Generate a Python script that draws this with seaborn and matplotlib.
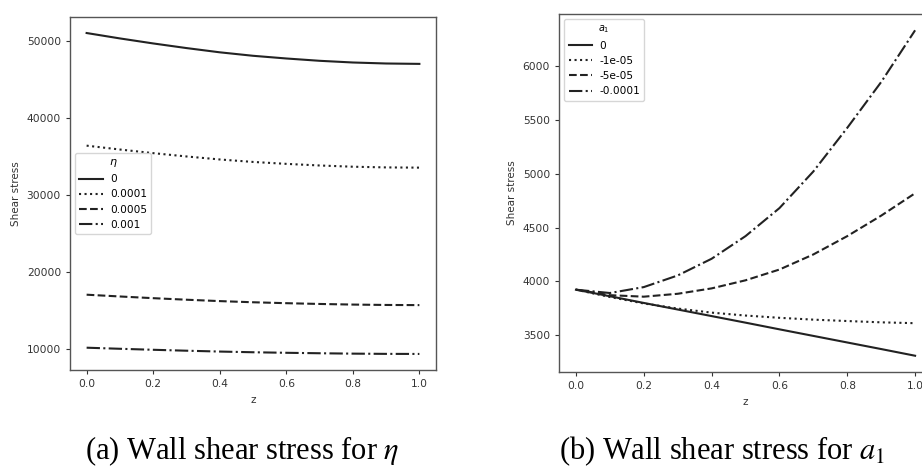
import matplotlib
matplotlib.use("Agg")
import matplotlib.pyplot as plt
import seaborn as sns
import numpy as np

z = [0.0, 0.1, 0.2, 0.3, 0.4, 0.5, 0.6, 0.7, 0.8, 0.9, 1.0]

eta_labels = ["0", "0.0001", "0.0005", "0.001"]
eta_0 = [51000, 50300, 49650, 49050, 48500, 48050, 47700, 47400, 47180, 47050, 47000]
eta_1e4 = [36400, 35900, 35430, 35000, 34610, 34290, 34040, 33830, 33670, 33580, 33550]
eta_5e4 = [17080, 16850, 16630, 16430, 16250, 16100, 15980, 15880, 15800, 15750, 15730]
eta_1e3 = [10210, 10070, 9940, 9820, 9710, 9620, 9550, 9490, 9440, 9410, 9400]

a1_labels = ["0", "-1e-05", "-5e-05", "-0.0001"]
a1_0 = [3923, 3862, 3800, 3739, 3678, 3617, 3555, 3494, 3433, 3372, 3310]
a1_1e5 = [3923, 3855, 3795, 3748, 3710, 3683, 3662, 3645, 3632, 3620, 3612]
a1_5e5 = [3923, 3872, 3858, 3885, 3935, 4010, 4110, 4250, 4420, 4610, 4818]
a1_1e4 = [3923, 3892, 3947, 4055, 4210, 4420, 4680, 5020, 5425, 5850, 6330]

styles = ["-", ":", "--", "-."]
line_color = "#222222"

fig = plt.figure(figsize=(9.22, 4.69), dpi=100)
ax1 = fig.add_axes([0.0759, 0.2111, 0.397, 0.7527])
ax2 = fig.add_axes([0.6063, 0.2068, 0.4046, 0.7633])

for vals, lab, ls in zip([eta_0, eta_1e4, eta_5e4, eta_1e3], eta_labels, styles):
    sns.lineplot(x=z, y=vals, ax=ax1, color=line_color, linestyle=ls, linewidth=1.5, label=lab)
for vals, lab, ls in zip([a1_0, a1_1e5, a1_5e5, a1_1e4], a1_labels, styles):
    sns.lineplot(x=z, y=vals, ax=ax2, color=line_color, linestyle=ls, linewidth=1.5, label=lab)

for ax in (ax1, ax2):
    ax.set_xlabel("z", fontsize=7.5, color="#333333")
    ax.set_ylabel("Shear stress", fontsize=7.5, color="#333333")
    ax.tick_params(labelsize=7.7, colors="#333333", length=3)
    for sp in ax.spines.values():
        sp.set_color("#555555")
        sp.set_linewidth(1.0)
    ax.set_xticks([0.0, 0.2, 0.4, 0.6, 0.8, 1.0])

ax1.set_yticks([10000, 20000, 30000, 40000, 50000])
ax2.set_yticks([3500, 4000, 4500, 5000, 5500, 6000])

ax1.legend(title=r"$\eta$", loc="center left", fontsize=7.6, title_fontsize=8,
           frameon=True, handlelength=2.2, handletextpad=0.7)
ax2.legend(title=r"$a_1$", loc="upper left", fontsize=7.6, title_fontsize=7,
           frameon=True, handlelength=2.2, handletextpad=0.7)

fig.text(0.263, 0.0213, r"(a) Wall shear stress for $\eta$", ha="center", va="baseline",
         fontsize=22, family="Liberation Serif", math_fontfamily="stix")
fig.text(0.7836, 0.0213, r"(b) Wall shear stress for $a_1$", ha="center", va="baseline",
         fontsize=22, family="Liberation Serif", math_fontfamily="stix")

fig.savefig("out.png", dpi=100)
